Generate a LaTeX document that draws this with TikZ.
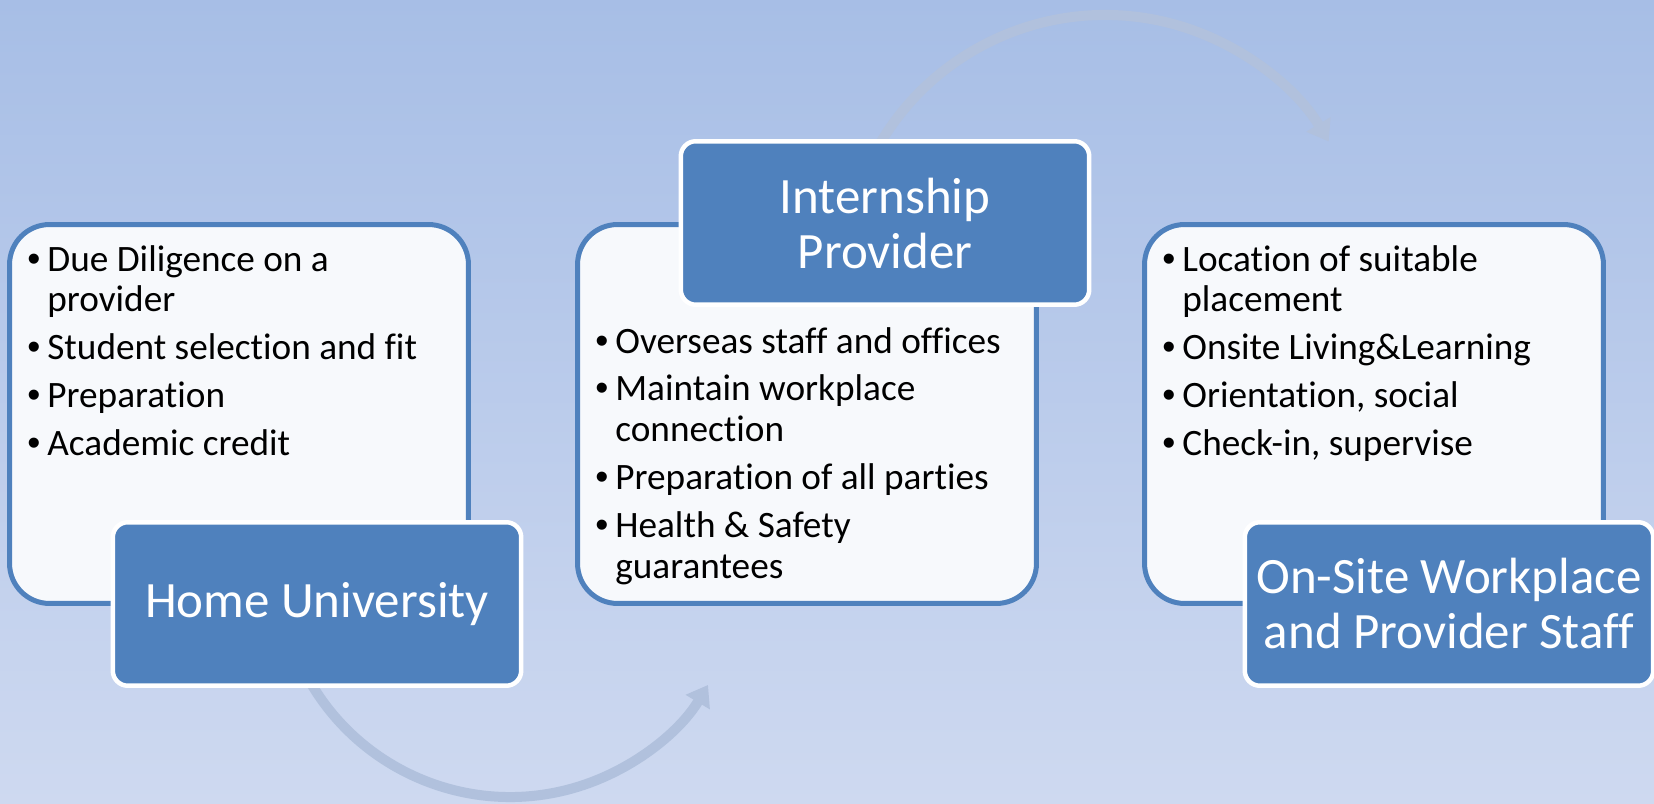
\documentclass[tikz,border=0pt]{standalone}
\usepackage{fontspec}
\setmainfont{Carlito}[Ligatures=NoCommon]
\newfontfamily\dotfont{Liberation Sans}
\usetikzlibrary{arrows.meta,calc,positioning}
\definecolor{bgtop}{HTML}{A7BEE6}
\definecolor{bgbot}{HTML}{CED9F0}
\definecolor{accent}{HTML}{4F81BD}
\definecolor{paper}{HTML}{F7F9FC}
\definecolor{swoopcol}{HTML}{B1C1DD}
\tikzset{
  panel/.style={draw=accent, line width=0.1cm, fill=paper, rounded corners=0.8cm,
      minimum width=9.18cm, minimum height=7.58cm},
  title/.style={draw=white, line width=0.09cm, fill=accent, rounded corners=0.3cm,
      minimum width=8.17cm, minimum height=3.27cm, text=white, align=center,
      font=\fontsize{29}{31.3}\selectfont},
  bul/.style={anchor=base west, inner sep=0pt},
  swoop/.style={draw=swoopcol, line width=0.2cm, -{Triangle[length=0.4cm,width=0.54cm]}}
}
\newcommand\bitem[1]{\par\hangindent=0.4cm\hangafter=1\noindent\makebox[0.4cm][l]{{\dotfont\textbullet}}#1}
\newenvironment{blist}{\begin{minipage}[t]{9cm}\fontsize{21.2}{23.3}\selectfont\setlength{\parskip}{4pt}\raggedright}{\end{minipage}}
\begin{document}
\begin{tikzpicture}[x=0.02cm,y=0.02cm]
      \useasboundingbox (0,0) rectangle (1654,804);
      \shade[top color=bgtop,bottom color=bgbot] (0,0) rectangle (1654,804);
      \coordinate (c1) at (510,238);
      \coordinate (c2) at (1105,528);
      \draw[swoop] ([shift={(200:231)}]c1) arc[start angle=200,end angle=329,radius=231];
      \draw[swoop] ([shift={(160:261)}]c2) arc[start angle=160,end angle=31,radius=261];

      \node[panel] (w1) at (239,390) {};
      \node[panel] (w2) at (807,390) {};
      \node[panel] (w3) at (1374,390) {};

      \node[bul] (l1) at ([shift={(20,-49)}]w1.north west) {\begin{blist}
          \bitem{Due Diligence on a\newline provider}
          \bitem{Student selection and fit}
          \bitem{Preparation}
          \bitem{Academic credit}
        \end{blist}};
      \node[bul] (l2) at ([shift={(20,-131)}]w2.north west) {\begin{blist}
          \bitem{Overseas staff and offices}
          \bitem{Maintain workplace\newline connection}
          \bitem{Preparation of all parties}
          \bitem{Health \& Safety\newline guarantees}
        \end{blist}};
      \node[bul] (l3) at ([shift={(20,-49)}]w3.north west) {\begin{blist}
          \bitem{Location of suitable\newline placement}
          \bitem{Onsite Living\&Learning}
          \bitem{Orientation, social}
          \bitem{Check-in, supervise}
        \end{blist}};

      \node[title] (t1) at ($(w1)+(78,-190)$) {Home University};
      \node[title] (t2) at ($(w2)+(78,191)$) {Internship\\Provider};
      \node[title] (t3) at ($(w3)+(75,-190)$) {On-Site Workplace\\and Provider Staff};
\end{tikzpicture}
\end{document}
